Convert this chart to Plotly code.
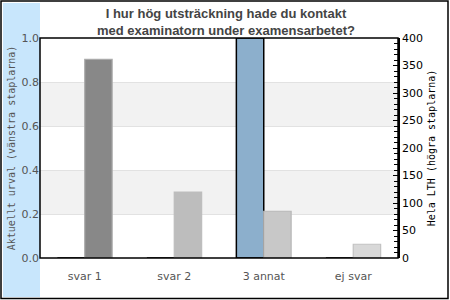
import plotly.graph_objects as go

categories = ["svar 1", "svar 2", "3 annat", "ej svar"]
aktuellt_urval = [0, 0, 1.0, 0]          # left axis (fraction)
hela_lth = [361, 120, 85, 25]             # right axis (count)
left_ticks = [0.0, 0.2, 0.4, 0.6, 0.8, 1.0]
right_ticks = [0, 50, 100, 150, 200, 250, 300, 350, 400]

title_text = "<b>I hur hög utsträckning hade du kontakt<br>med examinatorn under examensarbetet?</b>"
left_title = "Aktuellt urval (vänstra staplarna)"
right_title = "Hela LTH (högra staplarna)"

W, H = 450, 300
ML, MR, MT, MB = 40, 52, 38, 42
PW, PH = W - ML - MR, H - MT - MB

def px(x):
    return (x - ML) / PW

def py(y):
    return (H - MB - y) / PH

fig = go.Figure()
fig.add_trace(go.Bar(
    x=categories, y=aktuellt_urval, yaxis="y", offsetgroup="a",
    name=left_title,
    marker=dict(color=["#8aaecb", "#8aaecb", "#8cafcc", "#8aaecb"],
                line=dict(color="#000000", width=1.5)),
))
fig.add_trace(go.Bar(
    x=categories, y=hela_lth, yaxis="y2", offsetgroup="b",
    name=right_title,
    marker=dict(color=["#888888", "#bdbdbd", "#c8c8c8", "#d8d8d8"],
                line=dict(color=["#aaaaaa", "#bdbdbd", "#b8b8b8", "#c2c2c2"], width=1.2)),
))

shapes = []
# blue strip on the left
shapes.append(dict(type="rect", xref="paper", yref="paper",
                   x0=px(3), x1=px(40), y0=py(297), y1=py(3),
                   fillcolor="#c8e6fc", line=dict(width=0), layer="below"))
# shaded bands
for a, b in [(0.2, 0.4), (0.6, 0.8)]:
    shapes.append(dict(type="rect", xref="paper", yref="y", x0=0, x1=1, y0=a, y1=b,
                       fillcolor="#f2f2f2", line=dict(width=0), layer="below"))
# plot frame
shapes.append(dict(type="rect", xref="paper", yref="paper", x0=0, x1=1, y0=0, y1=1,
                   line=dict(color="#000000", width=1.5), layer="above"))
# outer border
shapes.append(dict(type="rect", xref="paper", yref="paper",
                   x0=px(1), x1=px(448), y0=py(298.5), y1=py(1),
                   line=dict(color="#000000", width=1.5), layer="above"))

fig.update_layout(
    width=W, height=H,
    margin=dict(l=ML, r=MR, t=MT, b=MB, autoexpand=False),
    paper_bgcolor="#ffffff", plot_bgcolor="#ffffff",
    showlegend=False,
    barmode="group", bargap=0.388, bargroupgap=0,
    annotations=[dict(text=title_text, xref="paper", yref="paper",
                      x=px(226), y=py(4), xanchor="center", yanchor="top",
                      showarrow=False, align="center",
                      font=dict(family="Liberation Sans", size=13, color="#444444"))],
    xaxis=dict(showgrid=False, showline=False, ticks="outside", ticklen=8,
               tickcolor="rgba(0,0,0,0)",
               tickfont=dict(family="DejaVu Sans", size=11, color="#555555")),
    yaxis=dict(range=[0, 1], tickvals=left_ticks, tickformat=".1f",
               showgrid=True, gridcolor="#e2e2e2", gridwidth=1, zeroline=False,
               showline=False, ticks="",
               tickfont=dict(family="DejaVu Sans", size=11, color="#555555"),
               title=dict(text=left_title, standoff=4,
                          font=dict(family="DejaVu Sans Mono", size=10, color="#555555"))),
    yaxis2=dict(range=[0, 400], tickvals=right_ticks, overlaying="y", side="right",
                showgrid=False, zeroline=False, showline=True, linecolor="#000000", linewidth=1.5,
                ticks="inside", ticklen=5, tickcolor="#000000",
                minor=dict(dtick=10, ticks="inside", ticklen=4, tickcolor="#000000"),
                tickfont=dict(family="DejaVu Sans", size=11, color="#000000"),
                title=dict(text=right_title, standoff=6,
                           font=dict(family="DejaVu Sans Mono", size=10, color="#000000"))),
    shapes=shapes,
)

fig.write_html("out.html")
